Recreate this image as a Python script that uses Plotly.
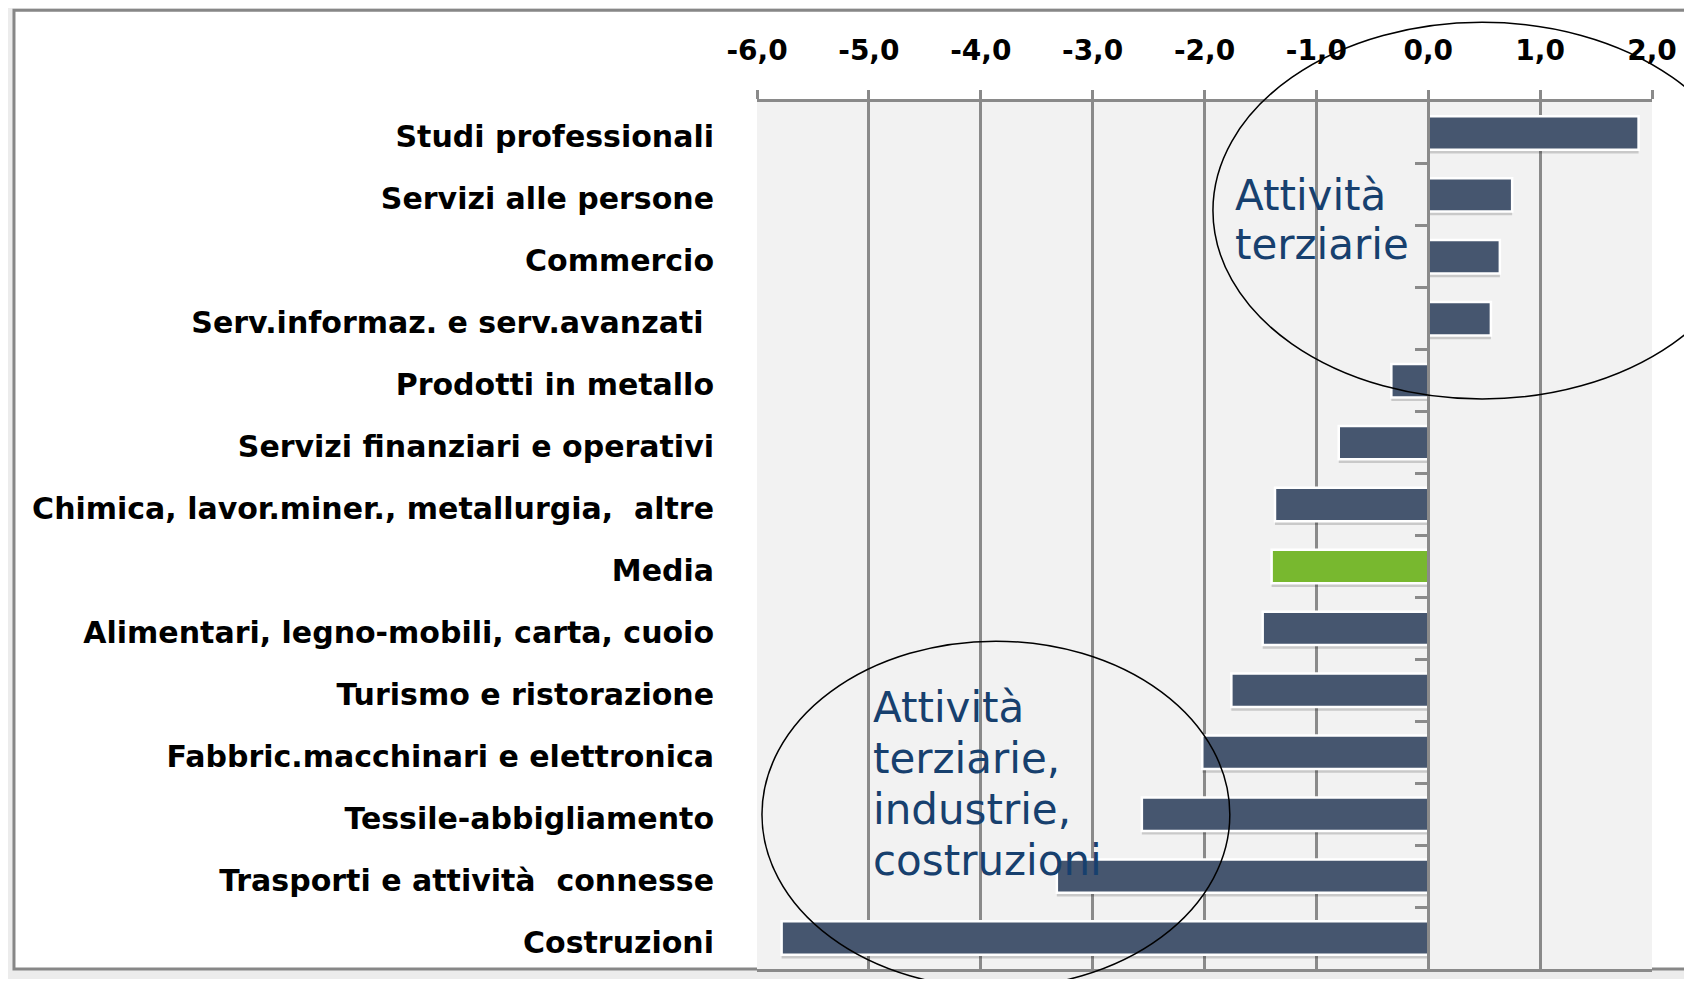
import plotly.graph_objects as go

# ---- data ----
categories = [
    "Studi professionali",
    "Servizi alle persone",
    "Commercio",
    "Serv.informaz. e serv.avanzati ",
    "Prodotti in metallo",
    "Servizi finanziari e operativi",
    "Chimica, lavor.miner., metallurgia,  altre",
    "Media",
    "Alimentari, legno-mobili, carta, cuoio",
    "Turismo e ristorazione",
    "Fabbric.macchinari e elettronica",
    "Tessile-abbigliamento",
    "Trasporti e attività  connesse",
    "Costruzioni",
]
values = [1.88, 0.75, 0.64, 0.56, -0.33, -0.80, -1.37, -1.40, -1.48, -1.76,
          -2.02, -2.56, -3.32, -5.78]
highlight = "Media"
x_ticks = [-6, -5, -4, -3, -2, -1, 0, 1, 2]
x_ticktext = [f"{v:.1f}".replace(".", ",") for v in x_ticks]
note_top = ["Attività", "terziarie"]
note_bottom = ["Attività", "terziarie,", "industrie,", "costruzioni"]

# ---- style ----
OFF = 8                      # default page body margin
W, H = 1692 - 2 * OFF, 987 - 2 * OFF
PL, PR, PT, PB = 757, 1658, 102, 972   # plot area in page pixels
L, R, T, B = PL - OFF, W - (PR - OFF), PT - OFF, H - (PB - OFF)
BAR = "#46566f"
GREEN = "#78b82f"
GRID = "#8a8a8a"
NAVY = "#17406e"
BW = 0.54
xmin, xmax = x_ticks[0], x_ticks[-1]
n = len(categories)
pw, ph = PR - PL, PB - PT
unit = pw / (xmax - xmin)


def px_x(p):
    return (p - PL) / pw


def px_y(p):
    return (PB - p) / ph


def data_x(p):
    return xmin + (p - PL) / unit


colors = [GREEN if c == highlight else BAR for c in categories]

fig = go.Figure()
# soft drop shadow
fig.add_trace(go.Bar(
    x=values, y=categories, orientation="h", width=BW, offset=-BW / 2 + 0.06,
    marker=dict(color="rgba(0,0,0,0.17)", line=dict(width=0)),
    hoverinfo="skip", showlegend=False))
fig.add_trace(go.Bar(
    x=values, y=categories, orientation="h", width=BW, offset=-BW / 2,
    marker=dict(color=colors, line=dict(color="white", width=2.5)),
    showlegend=False))
# helper trace for the zero axis with boundary ticks
fig.add_trace(go.Scatter(x=[0], y=[0], yaxis="y2", mode="markers",
                         marker=dict(opacity=0), hoverinfo="skip",
                         showlegend=False))

shapes = [
    # slide frame
    dict(type="rect", xref="paper", yref="paper",
         x0=px_x(9), x1=px_x(1720), y0=px_y(972), y1=px_y(10),
         fillcolor="white", line=dict(color="#878787", width=3), layer="below"),
    # plot background
    dict(type="rect", xref="paper", yref="paper",
         x0=0, x1=1, y0=0, y1=1,
         fillcolor="#f2f2f2", line=dict(width=0), layer="below"),
    # ellipses
    dict(type="circle", xref="paper", yref="paper",
         x0=px_x(1216), x1=px_x(1758), y0=px_y(400), y1=px_y(22),
         line=dict(color="black", width=1.5), layer="above"),
    dict(type="circle", xref="paper", yref="paper",
         x0=px_x(762), x1=px_x(1233), y0=px_y(991), y1=px_y(643),
         line=dict(color="black", width=1.5), layer="above"),
]

annotations = []
note_font = dict(family="DejaVu Sans", size=42, color=NAVY)
for i, line in enumerate(note_top):
    annotations.append(dict(
        text=line, x=data_x(1236), xref="x", y=px_y(196 + 49 * i), yref="paper",
        xanchor="left", yanchor="middle", align="left", showarrow=False,
        font=note_font))
for i, line in enumerate(note_bottom):
    annotations.append(dict(
        text=line, x=data_x(872), xref="x", y=px_y(710 + 51 * i), yref="paper",
        xanchor="left", yanchor="middle", align="left", showarrow=False,
        font=note_font))

fig.update_layout(
    width=W, height=H,
    margin=dict(l=L, r=R, t=T, b=B, pad=0),
    paper_bgcolor="#ececec",
    plot_bgcolor="rgba(0,0,0,0)",
    barmode="overlay",
    shapes=shapes,
    annotations=annotations,
    xaxis=dict(
        side="top", range=[xmin, xmax], tickvals=x_ticks, ticktext=x_ticktext,
        showgrid=True, gridcolor=GRID, gridwidth=2.5,
        showline=True, linecolor=GRID, linewidth=3, mirror=True,
        ticks="outside", ticklen=9, tickwidth=2.5, tickcolor=GRID,
        ticklabelstandoff=19, zeroline=False,
        tickfont=dict(family="DejaVu Sans", size=28, color="black", weight="bold"),
    ),
    yaxis=dict(
        type="category", categoryorder="array", categoryarray=categories,
        range=[n - 0.5, -0.5], showgrid=False, showline=False, ticks="",
        zeroline=False, ticklabelstandoff=42, ticklabelshift=-4,
        tickfont=dict(family="DejaVu Sans", size=30, color="black", weight="bold"),
    ),
    yaxis2=dict(
        overlaying="y", anchor="free", side="left",
        position=(0 - xmin) / (xmax - xmin),
        range=[n - 0.5, -0.5], tickvals=[i + 0.5 for i in range(n - 1)],
        showticklabels=False, ticks="outside", ticklen=12, tickwidth=2.5,
        tickcolor=GRID, showline=True, linecolor=GRID, linewidth=3,
        showgrid=False, zeroline=False,
    ),
)

fig.write_html("out.html")
